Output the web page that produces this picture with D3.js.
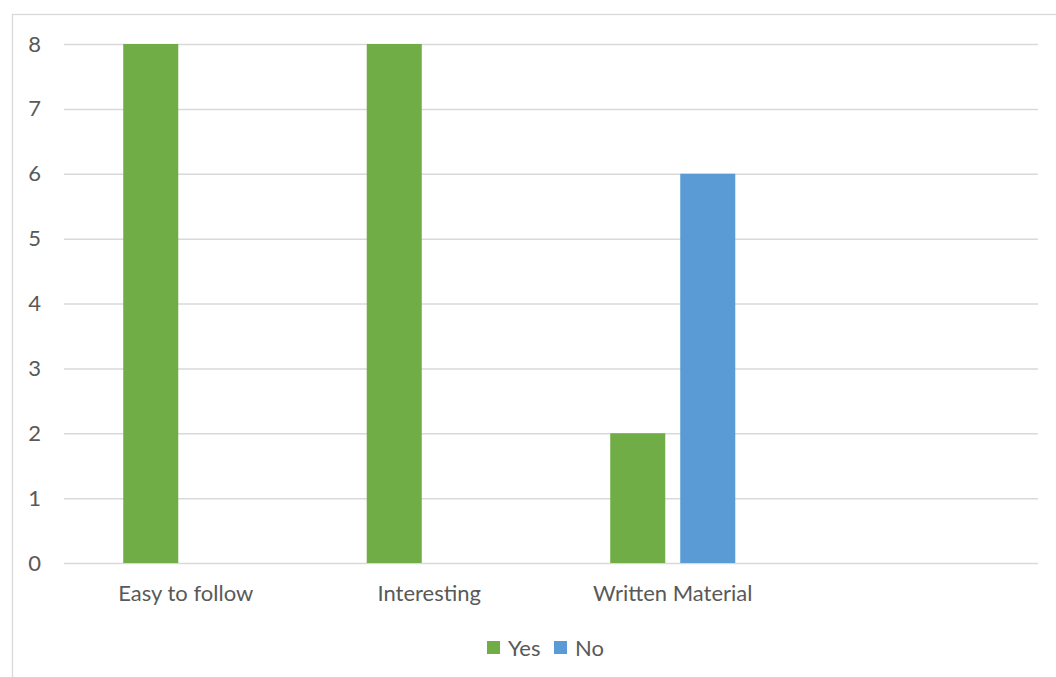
<!DOCTYPE html>
<html lang="en">
<head>
  <meta charset="UTF-8">
  <title>Yes / No Bar Chart</title>
  <script src="https://d3js.org/d3.v7.min.js"></script>
  <style>
    body { margin: 0; background: #fff; }
    text { font-family: Lato, "Open Sans", sans-serif; fill: #595959; }
  </style>
</head>
<body>
  <script>
    // 1. Data
    const categories = ["Easy to follow", "Interesting", "Written Material", ""];
    const seriesNames = ["Yes", "No"];
    const yesValues = [8, 8, 2, 0];
    const noValues = [0, 0, 6, 0];
    const yTicks = [0, 1, 2, 3, 4, 5, 6, 7, 8];
    const colors = { Yes: "#70AD47", No: "#5B9BD5" };

    const rows = categories.map((c, i) => ({ cat: c, Yes: yesValues[i], No: noValues[i] }));

    // 2. SVG canvas
    const width = 1056, height = 677;
    const plot = { left: 64, right: 1038, top: 44, bottom: 563 };
    const fontSize = 22;

    const svg = d3.select("body")
                  .append("svg")
                  .attr("width", width)
                  .attr("height", height);

    // chart border (cropped on right and bottom)
    svg.append("rect")
       .attr("x", 12.5).attr("y", 14.5)
       .attr("width", 1100).attr("height", 700)
       .attr("fill", "none")
       .attr("stroke", "#d9d9d9")
       .attr("stroke-width", 1.3);

    // 3. Scales
    const x0 = d3.scaleBand()
                 .domain(categories)
                 .range([plot.left, plot.right])
                 .padding(0);

    const x1 = d3.scaleBand()
                 .domain(seriesNames)
                 .range([0, x0.bandwidth()])
                 .paddingInner(0.214)
                 .paddingOuter(0.846);

    const y = d3.scaleLinear()
                .domain([0, 8])
                .range([plot.bottom, plot.top]);

    // 4. Gridlines + y labels
    const yAxis = svg.append("g")
       .attr("transform", `translate(${plot.left},0)`)
       .call(d3.axisLeft(y).tickValues(yTicks).tickSize(-(plot.right - plot.left)).tickPadding(23));
    yAxis.select(".domain").remove();
    yAxis.selectAll(".tick line").attr("stroke", "#d9d9d9").attr("stroke-width", 1.5);
    yAxis.selectAll(".tick text").attr("font-size", fontSize).style("font-family", "Lato, sans-serif").attr("fill", "#595959");

    // 5. Bars
    const groups = svg.append("g")
       .selectAll("g")
       .data(rows)
       .join("g")
       .attr("transform", d => `translate(${x0(d.cat)},0)`);

    groups.selectAll("rect")
       .data(d => seriesNames.map(s => ({ key: s, value: d[s] })))
       .join("rect")
       .attr("x", d => x1(d.key))
       .attr("y", d => y(d.value))
       .attr("width", x1.bandwidth())
       .attr("height", d => y(0) - y(d.value))
       .attr("fill", d => colors[d.key]);

    // 6. X axis labels
    const xAxis = svg.append("g")
       .attr("transform", `translate(0,${plot.bottom})`)
       .call(d3.axisBottom(x0).tickSize(0).tickPadding(22));
    xAxis.select(".domain").remove();
    xAxis.selectAll(".tick text").attr("font-size", fontSize).style("font-family", "Lato, sans-serif").attr("fill", "#595959");

    // 7. Legend
    const legendX = [487, 554];
    const legend = svg.append("g")
       .selectAll("g")
       .data(seriesNames)
       .join("g")
       .attr("transform", (d, i) => `translate(${legendX[i]},641)`);
    legend.append("rect")
       .attr("width", 13).attr("height", 13)
       .attr("fill", d => colors[d]);
    legend.append("text")
       .attr("x", 21).attr("y", 14.5)
       .attr("font-size", fontSize)
       .text(d => d);
  </script>
</body>
</html>
